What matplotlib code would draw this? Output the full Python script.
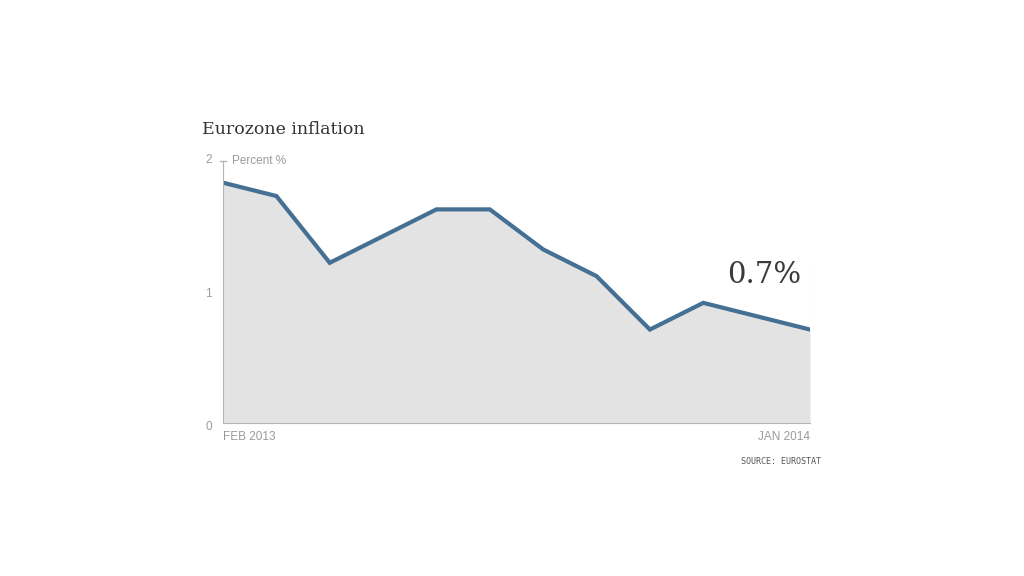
import matplotlib
matplotlib.use("Agg")
import matplotlib.pyplot as plt

# Eurozone HICP inflation, Feb 2013 - Jan 2014
months = ["FEB 2013", "MAR", "APR", "MAY", "JUN", "JUL", "AUG", "SEP", "OCT", "NOV", "DEC", "JAN 2014"]
inflation = [1.8, 1.7, 1.2, 1.4, 1.6, 1.6, 1.3, 1.1, 0.7, 0.9, 0.8, 0.7]
y_ticks = [0, 1, 2]

narrow = ["Liberation Sans", "DejaVu Sans"]
serif = ["DejaVu Serif"]
grey = "#9a9a9a"

fig = plt.figure(figsize=(10.24, 5.76), dpi=100)
ax = fig.add_axes([0.2178, 0.2656, 0.5732, 0.4636])

x = list(range(len(months)))
ax.fill_between(x, inflation, 0, color="#e3e3e3", lw=0)
ax.plot(x, inflation, color="#456f93", lw=3, solid_joinstyle="miter")

ax.set_xlim(0, len(months) - 1)
ax.set_ylim(0, 2)
ax.set_yticks([])
# y labels sit a few pixels below their gridline value, as in the original
for t in y_ticks:
    ax.annotate(str(t), xy=(0, t), xycoords=("axes fraction", "data"),
                xytext=(-8, -3), textcoords="offset points",
                ha="right", va="center", family=narrow, color=grey, fontsize=8.5)
ax.set_xticks([0, len(months) - 1])
ax.set_xticklabels([months[0], months[-1]], family=narrow, color=grey, fontsize=8.5)
ax.get_xticklabels()[0].set_ha("left")
ax.get_xticklabels()[1].set_ha("right")
ax.tick_params(axis="x", length=0, pad=6)
for s in ["top", "right"]:
    ax.spines[s].set_visible(False)
ax.spines["left"].set_color("#b5b5b5")
ax.spines["bottom"].set_color("#b5b5b5")
ax.spines["left"].set_bounds(0, 1.96)
# small tick at the top of the y axis
ax.plot([-0.05, 0.05], [1.96, 1.96], color="#b5b5b5", lw=1, clip_on=False)
ax.text(0.16, 1.96, "Percent %", family=narrow, color=grey, fontsize=8.5, va="center")

# last-value callout
ax.plot([x[-1], x[-1]], [0.79, 1.22], color="#b0b0b0", lw=0.8, ls=(0, (1, 2)))
ax.text(x[-1] - 0.16, 1.11, f"{inflation[-1]}%", family=serif, color="#3a3a3a",
        fontsize=21, ha="right", va="center")

fig.text(0.197, 0.776, "Eurozone inflation", family=serif, color="#333333", fontsize=12.5, va="center")
fig.text(0.802, 0.199, "SOURCE: EUROSTAT", family=["DejaVu Sans Mono"], color="#555555",
         fontsize=6, ha="right", va="center")

fig.savefig("out.png", dpi=100)
